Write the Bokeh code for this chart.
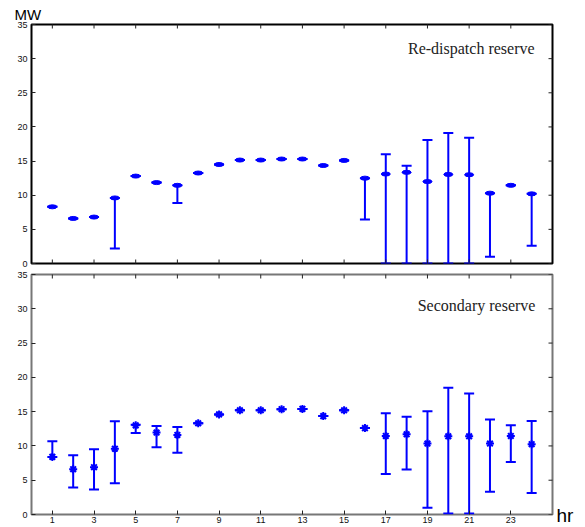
import math
from bokeh.plotting import figure
from bokeh.models import (ColumnDataSource, Range1d, LinearAxis, FixedTicker,
                          Whisker, TeeHead, Label, Title, Spacer)
from bokeh.layouts import column, row
from bokeh.core.properties import value
from bokeh.embed import file_html
from bokeh.resources import INLINE

# ---------------- data ----------------
hours = list(range(1, 25))
x_ticks = [1, 3, 5, 7, 9, 11, 13, 15, 17, 19, 21, 23]
x_tick_labels = ["1", "3", "5", "7", "9", "11", "13", "15", "17", "19", "21", "23"]
y_ticks = [0, 5, 10, 15, 20, 25, 30, 35]
x_min, x_max = 0, 25
y_min, y_max = 0, 35

# Re-dispatch reserve (top panel)
redisp_center = [8.3, 6.6, 6.8, 9.6, 12.8, 11.85, 11.45, 13.25, 14.5, 15.15, 15.15, 15.3,
                 15.3, 14.35, 15.1, 12.5, 13.1, 13.35, 12.0, 13.05, 13.0, 10.3, 11.45, 10.2]
redisp_lower = [8.3, 6.6, 6.8, 2.2, 12.8, 11.85, 8.85, 13.25, 14.5, 15.15, 15.15, 15.3,
                15.3, 14.35, 15.1, 6.45, 0.0, 0.0, 0.0, 0.0, 0.0, 1.0, 11.45, 2.6]
redisp_upper = [8.3, 6.6, 6.8, 9.6, 12.8, 11.85, 11.45, 13.25, 14.5, 15.15, 15.15, 15.3,
                15.3, 14.35, 15.1, 12.5, 16.0, 14.3, 18.1, 19.1, 18.4, 10.3, 11.45, 10.2]

# Secondary reserve (bottom panel)
sec_center = [8.4, 6.6, 6.9, 9.6, 13.0, 11.95, 11.6, 13.3, 14.6, 15.2, 15.2, 15.35,
              15.4, 14.35, 15.2, 12.6, 11.45, 11.7, 10.35, 11.4, 11.4, 10.35, 11.45, 10.25]
sec_lower = [8.4, 3.95, 3.65, 4.55, 11.9, 9.8, 9.0, 13.3, 14.6, 15.2, 15.2, 15.35,
             15.4, 14.35, 15.2, 12.6, 5.9, 6.55, 1.0, 0.15, 0.15, 3.3, 7.65, 3.15]
sec_upper = [10.7, 8.65, 9.5, 13.6, 13.1, 12.9, 12.75, 13.3, 14.6, 15.2, 15.2, 15.35,
             15.4, 14.35, 15.2, 12.6, 14.75, 14.25, 15.05, 18.5, 17.65, 13.85, 13.0, 13.65]

BLUE = "#0000ff"
TICK_FONT = "Liberation Sans"
TICK_COLOR = "#222222"


def style_axis(ax, ticker, overrides=None, standoff=4):
    ax.ticker = ticker
    ax.axis_line_color = None
    ax.major_tick_in = 4
    ax.major_tick_out = 0
    ax.major_tick_line_color = TICK_COLOR
    ax.major_tick_line_width = 1
    ax.minor_tick_line_color = None
    ax.major_label_text_font = TICK_FONT
    ax.major_label_text_font_size = "9px"
    ax.major_label_text_color = "#111111"
    ax.major_label_standoff = standoff
    if overrides:
        ax.major_label_overrides = overrides


def make_panel(height, b_top, b_bottom, center, lower, upper, outline,
               bottom_axis, marker):
    p = figure(width=554, height=height, output_backend="svg", toolbar_location=None,
               x_range=Range1d(x_min, x_max), y_range=Range1d(y_min, y_max),
               min_border_left=31, min_border_right=2,
               min_border_top=b_top, min_border_bottom=b_bottom,
               x_axis_location=None, y_axis_location=None)
    p.grid.visible = False
    p.background_fill_color = "white"
    p.border_fill_color = "white"
    p.outline_line_color = outline
    p.outline_line_width = 2

    left = LinearAxis()
    style_axis(left, FixedTicker(ticks=y_ticks), standoff=4)
    p.add_layout(left, "left")

    nx, ny = len(x_ticks), len(y_ticks)
    # mirrored inward ticks (markers centred on the frame edge, clipped to 4 px inside)
    p.scatter(x=x_ticks, y=[y_max] * nx, marker="dash", angle=math.pi / 2, size=8,
              line_color=TICK_COLOR, line_width=1)
    p.scatter(x=[x_max] * ny, y=y_ticks, marker="dash", size=8,
              line_color=TICK_COLOR, line_width=1)
    if bottom_axis:
        bottom = LinearAxis()
        style_axis(bottom, FixedTicker(ticks=x_ticks),
                   overrides={t: l for t, l in zip(x_ticks, x_tick_labels)}, standoff=2)
        p.add_layout(bottom, "below")
    else:
        p.scatter(x=x_ticks, y=[y_min] * nx, marker="dash", angle=math.pi / 2, size=8,
                  line_color=TICK_COLOR, line_width=1)

    src = ColumnDataSource(dict(x=hours, c=center, lo=lower, up=upper))
    wh = Whisker(base="x", lower="lo", upper="up", source=src,
                 line_color=BLUE, line_width=2,
                 upper_head=TeeHead(size=10, line_color=BLUE, line_width=2),
                 lower_head=TeeHead(size=10, line_color=BLUE, line_width=2))
    p.add_layout(wh)
    if marker == "ellipse":
        p.ellipse(x="x", y="c", width=9, height=4, width_units="screen",
                  height_units="screen", fill_color=BLUE, line_color=BLUE, source=src)
    else:
        p.scatter(x="x", y="c", marker="asterisk", size=8, line_width=2,
                  line_color=BLUE, source=src)
    return p


p1 = make_panel(268, 24, 5, redisp_center, redisp_lower, redisp_upper,
                "#000000", False, "ellipse")
p2 = make_panel(259, 6, 13, sec_center, sec_lower, sec_upper,
                "#777777", True, "asterisk")

p1.add_layout(Title(text="MW", align="left", offset=-17, standoff=3,
                    text_font="Liberation Sans", text_font_size="15px",
                    text_font_style="normal", text_color="#000000"), "above")

p1.add_layout(Label(x=24.14, y=31.44, text="Re-dispatch reserve", text_align="right",
                    text_baseline="alphabetic", text_font="Liberation Serif",
                    text_font_size="16px", text_color="#222222"))
p2.add_layout(Label(x=24.18, y=30.48, text="Secondary reserve", text_align="right",
                    text_baseline="alphabetic", text_font="Liberation Serif",
                    text_font_size="16px", text_color="#222222"))

# small canvas for the "hr" unit label at the right of the lower x axis
hr_fig = figure(width=31, height=40, output_backend="svg", toolbar_location=None,
                x_range=Range1d(0, 31), y_range=Range1d(0, 40),
                min_border=0, x_axis_location=None, y_axis_location=None)
hr_fig.grid.visible = False
hr_fig.outline_line_color = None
hr_fig.text(x=[2], y=[12], text=["hr"], text_font=value("Liberation Sans"),
            text_font_size="19px", text_baseline="alphabetic", text_align="left",
            text_color="#000000")

layout = row(column(p1, p2, spacing=0),
             column(Spacer(width=31, height=487), hr_fig, spacing=0),
             spacing=0)
open("out.html", "w").write(file_html(layout, INLINE))
